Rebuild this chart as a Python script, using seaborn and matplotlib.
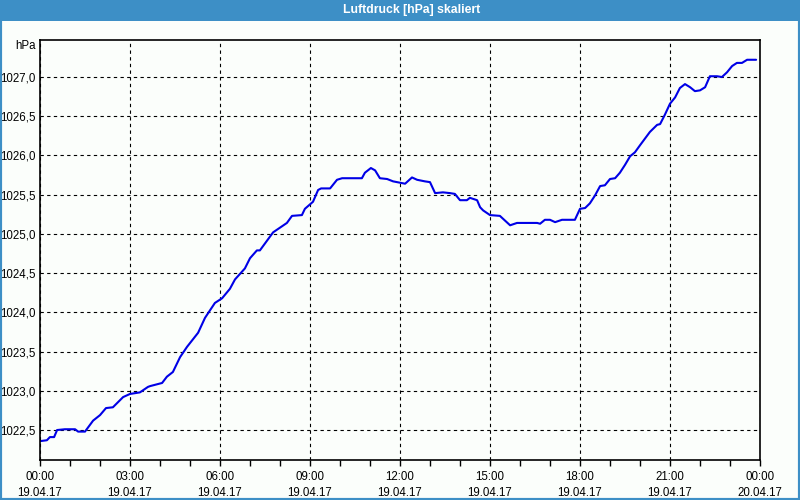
import matplotlib
matplotlib.use("Agg")
import matplotlib.pyplot as plt
from matplotlib.patches import Rectangle
import seaborn as sns
import pandas as pd

# ---- data -------------------------------------------------------------
hours = [0.03, 0.23, 0.33, 0.47, 0.57, 0.83, 1.17, 1.27, 1.50, 1.77, 2.00,
         2.20, 2.43, 2.77, 3.00, 3.33, 3.60, 3.67, 4.07, 4.23, 4.43, 4.67,
         4.90, 5.27, 5.50, 5.83, 6.07, 6.33, 6.50, 6.83, 7.00, 7.23, 7.33,
         7.77, 8.23, 8.40, 8.73, 8.83, 9.10, 9.27, 9.37, 9.67, 9.90, 10.07,
         10.73, 10.83, 11.03, 11.17, 11.33, 11.57, 11.77, 12.17, 12.40, 12.57,
         12.83, 13.00, 13.17, 13.43, 13.67, 13.83, 14.00, 14.23, 14.33, 14.57,
         14.67, 14.77, 15.00, 15.33, 15.67, 15.90, 16.57, 16.67, 16.83, 17.00,
         17.17, 17.40, 17.83, 18.00, 18.17, 18.33, 18.50, 18.67, 18.83, 19.00,
         19.17, 19.33, 19.50, 19.67, 19.83, 20.00, 20.33, 20.57, 20.67, 20.83,
         21.00, 21.17, 21.33, 21.50, 21.67, 21.83, 22.00, 22.17, 22.33, 22.57,
         22.73, 22.90, 23.07, 23.23, 23.40, 23.57, 23.87]
pressure = [1022.36, 1022.37, 1022.41, 1022.41, 1022.50, 1022.51, 1022.51,
            1022.48, 1022.48, 1022.62, 1022.69, 1022.78, 1022.79, 1022.92,
            1022.96, 1022.98, 1023.05, 1023.06, 1023.10, 1023.18, 1023.24,
            1023.43, 1023.56, 1023.74, 1023.93, 1024.12, 1024.18, 1024.30,
            1024.42, 1024.56, 1024.69, 1024.79, 1024.79, 1025.02, 1025.14,
            1025.23, 1025.24, 1025.32, 1025.41, 1025.56, 1025.58, 1025.58,
            1025.69, 1025.71, 1025.71, 1025.78, 1025.84, 1025.81, 1025.71,
            1025.70, 1025.67, 1025.64, 1025.72, 1025.69, 1025.67, 1025.66,
            1025.52, 1025.53, 1025.52, 1025.51, 1025.43, 1025.43, 1025.46,
            1025.43, 1025.34, 1025.30, 1025.24, 1025.23, 1025.11, 1025.14,
            1025.14, 1025.13, 1025.18, 1025.18, 1025.15, 1025.18, 1025.18,
            1025.32, 1025.33, 1025.39, 1025.49, 1025.61, 1025.62, 1025.70,
            1025.71, 1025.78, 1025.88, 1025.99, 1026.04, 1026.13, 1026.30,
            1026.39, 1026.40, 1026.52, 1026.66, 1026.74, 1026.86, 1026.91,
            1026.87, 1026.82, 1026.83, 1026.87, 1027.01, 1027.01, 1027.00,
            1027.06, 1027.14, 1027.18, 1027.18, 1027.22, 1027.22]
x_tick_hours = [0, 3, 6, 9, 12, 15, 18, 21, 24]
x_tick_labels = ["00:00\n19.04.17", "03:00\n19.04.17", "06:00\n19.04.17",
                 "09:00\n19.04.17", "12:00\n19.04.17", "15:00\n19.04.17",
                 "18:00\n19.04.17", "21:00\n19.04.17", "00:00\n20.04.17"]
y_ticks = [1022.5, 1023.0, 1023.5, 1024.0, 1024.5, 1025.0, 1025.5,
           1026.0, 1026.5, 1027.0]
y_tick_labels = ["1022,5", "1023,0", "1023,5", "1024,0", "1024,5",
                 "1025,0", "1025,5", "1026,0", "1026,5", "1027,0"]
title = "Luftdruck [hPa] skaliert"
unit = "hPa"

# ---- figure -----------------------------------------------------------
sns.set_theme(style="white")
plt.rcParams['font.family'] = ['Liberation Sans', 'DejaVu Sans']

W, H = 800, 500
bg = "#FBFEFB"
frame_blue = "#3D8FC6"
fig = plt.figure(figsize=(8, 5), dpi=100, facecolor=bg)

# window frame + title bar
fig.patches.append(Rectangle((0, 0), 1, 1, transform=fig.transFigure,
                             facecolor="none", edgecolor=frame_blue,
                             linewidth=3, zorder=0))
fig.patches.append(Rectangle((0, 1 - 21 / H), 1, 21 / H,
                             transform=fig.transFigure, facecolor=frame_blue,
                             edgecolor="none", zorder=1))
fig.text(412 / W, 1 - 10.5 / H, title, color="white", fontsize=8.8,
         fontweight="bold", ha="center", va="center")

ax = fig.add_axes([40 / W, 40 / H, 720 / W, 420 / H])
ax.set_facecolor(bg)

df = pd.DataFrame({"hour": hours, "hPa": pressure})
sns.lineplot(data=df, x="hour", y="hPa", ax=ax, color="#0000E6",
             linewidth=1.5, estimator=None, sort=False)

ax.set_xlim(0, 24)
ax.set_ylim(1022.118, 1027.472)
ax.set_xticks(x_tick_hours)
ax.set_xticklabels(x_tick_labels, fontsize=8.3, linespacing=1.45)
ax.set_xticks(range(0, 25), minor=True)
ax.set_yticks(y_ticks)
ax.set_yticklabels(y_tick_labels, fontsize=8.3)
ax.set_xlabel("")
ax.set_ylabel("")

ax.tick_params(axis="x", which="both", direction="out", length=4,
               width=1, color="black", pad=4, labelcolor="black", bottom=True)
ax.tick_params(axis="y", which="both", length=0, pad=3, labelcolor="black")

ax.grid(True, which="major", color="black", linestyle=(0, (3, 3)),
        linewidth=0.8)
for s in ax.spines.values():
    s.set_visible(True)
    s.set_color("black")
    s.set_linewidth(1.2)

fig.text(36 / W, 1 - 46 / H, unit, fontsize=8.3, ha="right", va="center",
         color="black")

fig.savefig("out.png", dpi=100, facecolor=bg)
